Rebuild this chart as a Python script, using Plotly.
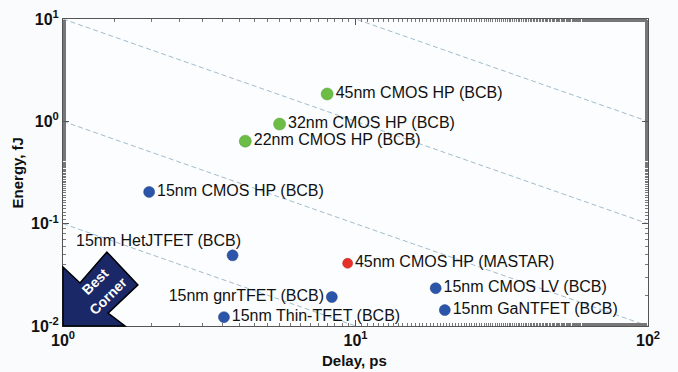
import plotly.graph_objects as go

# Data (delay in ps, energy in fJ)
green_labels = ["45nm CMOS HP (BCB)", "32nm CMOS HP (BCB)", "22nm CMOS HP (BCB)"]
green_delay = [8.0, 5.5, 4.2]
green_energy = [1.85, 0.94, 0.64]

blue_right_labels = ["15nm CMOS HP (BCB)", "15nm Thin-TFET (BCB)", "15nm CMOS LV (BCB)", "15nm GaNTFET (BCB)"]
blue_right_delay = [1.97, 3.55, 18.8, 20.2]
blue_right_energy = [0.204, 0.0122, 0.0234, 0.0143]

gnr_label = ["15nm gnrTFET (BCB)"]
gnr_delay = [8.3]
gnr_energy = [0.0192]

het_label = "15nm HetJTFET (BCB)"
het_delay = [3.8]
het_energy = [0.049]

red_labels = ["45nm CMOS HP (MASTAR)"]
red_delay = [9.4]
red_energy = [0.041]

# constant energy-delay product lines (fJ*ps)
edp_values = [100, 10, 1, 0.1]
line_delay = [1, 100]

xtick_vals = [1, 10, 100]
xtick_text = ["<b>10<sup>0</sup></b>", "<b>10<sup>1</sup></b>", "<b>10<sup>2</sup></b>"]
ytick_vals = [0.01, 0.1, 1, 10]
ytick_text = ["<b>10<sup>-2</sup></b>", "<b>10<sup>-1</sup></b>", "<b>10<sup>0</sup></b>", "<b>10<sup>1</sup></b>"]

FONT = "Liberation Sans, Arial, sans-serif"
GREEN = "#6cbd45"
BLUE = "#2b55a8"
RED = "#e8302a"

fig = go.Figure()

for edp in edp_values:
    fig.add_trace(go.Scatter(
        x=line_delay, y=[edp / d for d in line_delay], mode="lines",
        line=dict(color="#a3bccb", width=1, dash="5px,3px"),
        hoverinfo="skip", showlegend=False, cliponaxis=True))

label_font = dict(family=FONT, size=16, color="#111111")

fig.add_trace(go.Scatter(
    x=green_delay, y=green_energy, mode="markers+text", text=green_labels,
    textposition="middle right", textfont=label_font,
    marker=dict(size=12, color=GREEN, line=dict(color="#4f9a30", width=0.5)),
    showlegend=False, cliponaxis=False))

fig.add_trace(go.Scatter(
    x=blue_right_delay, y=blue_right_energy, mode="markers+text", text=blue_right_labels,
    textposition="middle right", textfont=label_font,
    marker=dict(size=11, color=BLUE, line=dict(color="#1e3f85", width=0.5)),
    showlegend=False, cliponaxis=False))

fig.add_trace(go.Scatter(
    x=gnr_delay, y=gnr_energy, mode="markers+text", text=gnr_label,
    textposition="middle left", textfont=label_font,
    marker=dict(size=11, color=BLUE, line=dict(color="#1e3f85", width=0.5)),
    showlegend=False, cliponaxis=False))

fig.add_trace(go.Scatter(
    x=het_delay, y=het_energy, mode="markers",
    marker=dict(size=11, color=BLUE, line=dict(color="#1e3f85", width=0.5)),
    showlegend=False, cliponaxis=False))

fig.add_trace(go.Scatter(
    x=red_delay, y=red_energy, mode="markers+text", text=red_labels,
    textposition="middle right", textfont=label_font,
    marker=dict(size=10, color=RED, line=dict(color="#b82018", width=0.5)),
    showlegend=False, cliponaxis=False))

fig.add_annotation(
    x=0.58, y=-1.31, xref="x", yref="y", text=het_label, showarrow=False,
    xanchor="right", yanchor="bottom", xshift=10, yshift=4, font=label_font)

# "Best Corner" arrow (in plot-area fractions)
fig.add_shape(
    type="path", xref="paper", yref="paper",
    path="M 0 0.192 L 0.029 0.140 L 0.075 0.241 L 0.128 0.134 L 0.077 0.042 L 0.106 0 L 0 0 Z",
    fillcolor="#1b2868", line=dict(color="#000000", width=1.5), layer="above")

fig.add_annotation(x=0.056, y=0.145, xref="paper", yref="paper", text="<b>Best</b>",
                   showarrow=False, textangle=-45, xanchor="center", yanchor="middle",
                   font=dict(family=FONT, size=14, color="white"))
fig.add_annotation(x=0.077, y=0.098, xref="paper", yref="paper", text="<b>Corner</b>",
                   showarrow=False, textangle=-45, xanchor="center", yanchor="middle",
                   font=dict(family=FONT, size=14, color="white"))

# axis titles
title_font = dict(family=FONT, size=15, color="#111111")
fig.add_annotation(x=0.499, y=-0.111, xref="paper", yref="paper", text="<b>Delay, ps</b>",
                   showarrow=False, xanchor="center", yanchor="middle", font=title_font)
fig.add_annotation(x=-0.077, y=0.50, xref="paper", yref="paper", text="<b>Energy, fJ</b>",
                   showarrow=False, textangle=-90, xanchor="center", yanchor="middle",
                   font=title_font)

axis_common = dict(
    type="log", showgrid=False, zeroline=False, showline=True, automargin=False,
    linecolor="#555555", linewidth=1, mirror="allticks",
    ticks="inside", ticklen=6, tickcolor="#555555",
    minor=dict(ticks="inside", ticklen=3, tickcolor="#777777", showgrid=False),
    tickfont=dict(family=FONT, size=16, color="#111111"),
)

fig.update_xaxes(**axis_common, range=[0, 2], tickvals=xtick_vals, ticktext=xtick_text)
fig.update_yaxes(**axis_common, range=[-2, 1], tickvals=ytick_vals, ticktext=ytick_text)

fig.update_layout(
    width=678, height=372,
    margin=dict(l=63, r=30, t=19, b=46, autoexpand=False),
    paper_bgcolor="#fafbfc", plot_bgcolor="#fcfdfe",
    showlegend=False,
)

fig.write_html("out.html", config={"displayModeBar": False},
               post_script="document.body.style.margin='0';")
